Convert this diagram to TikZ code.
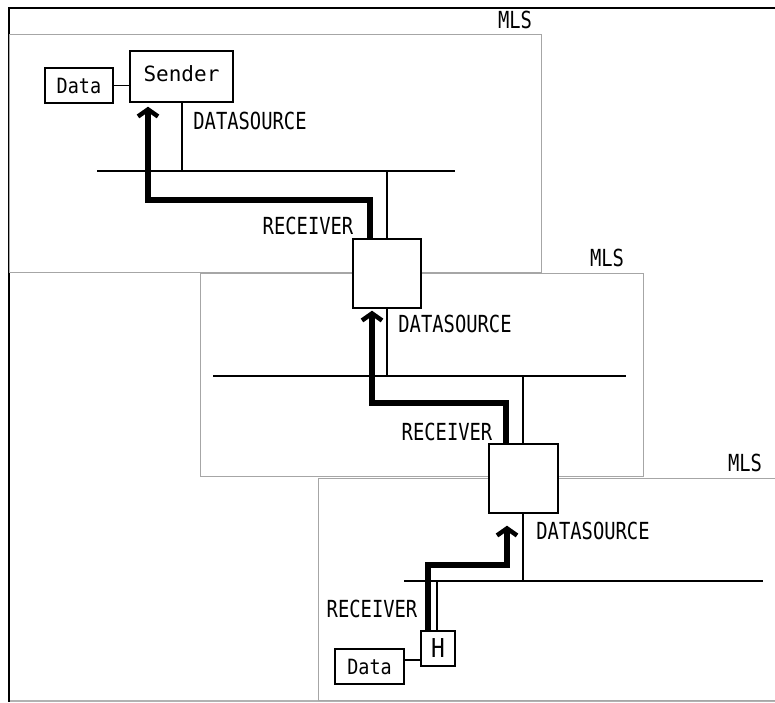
\documentclass[tikz,border=0pt]{standalone}
\usepackage{fontspec}
\usetikzlibrary{arrows.meta}
\newfontfamily\labfont[FakeStretch=0.8]{DejaVu Sans Mono}
\newfontfamily\boxfont[FakeStretch=0.88]{DejaVu Sans Mono}
\newfontfamily\wideboxfont{DejaVu Sans Mono}
\tikzset{
  mls/.style={draw=black!35, line width=1.3pt, fill=none},
  bus/.style={draw=black, line width=1.4pt},
  thin/.style={draw=black, line width=1.4pt},
  box/.style={draw=black, line width=1.4pt, fill=white, inner sep=0pt, font=\boxfont\fontsize{21}{21}\selectfont},
  lab/.style={inner sep=0pt, font=\labfont\fontsize{23.5}{23.5}\selectfont},
  flow/.style={draw=black, line width=6pt, -{Straight Barb[length=7pt,width=20pt,line width=4.5pt]}},
}
\begin{document}
\begin{tikzpicture}[x=1pt,y=-1pt]
\useasboundingbox (0,0) rectangle (775,702);
% outer frame
\draw[black!30, line width=1.3pt] (9,701) -- (775,701);
\draw[black, line width=2pt] (775,8) -- (9,8) -- (9,702);
% MLS domains
\node[mls, minimum width=532pt, minimum height=238pt, anchor=north west] (mls1) at (9,34) {};
\node[mls, minimum width=443pt, minimum height=203pt, anchor=north west] (mls2) at (200,273) {};
\node[mls, minimum width=470pt, minimum height=222pt, anchor=north west] (mls3) at (318,478) {};
\node[lab] (mlsl1) at (515,20) {MLS};
\node[lab] (mlsl2) at (607,258) {MLS};
\node[lab] (mlsl3) at (745,463) {MLS};
% buses
\coordinate (b1w) at (97,171);  \coordinate (b1e) at (455,171);
\coordinate (b2w) at (213,376); \coordinate (b2e) at (626,376);
\coordinate (b3w) at (404,581); \coordinate (b3e) at (763,581);
\draw[bus] (b1w) -- (b1e);
\draw[bus] (b2w) -- (b2e);
\draw[bus] (b3w) -- (b3e);
% boxes
\node[box, minimum width=103pt, minimum height=51pt, font=\wideboxfont\fontsize{21}{21}\selectfont, text depth=6pt] (sender) at (181.5,76.5) {Sender};
\node[box, minimum width=68pt, minimum height=35pt] (data1) at (79,85.5) {Data};
\node[box, minimum width=68pt, minimum height=69pt] (sq1) at (387,273.5) {};
\node[box, minimum width=69pt, minimum height=69pt] (sq2) at (523.5,478.5) {};
\node[box, minimum width=34pt, minimum height=35pt, font=\boxfont\fontsize{26}{26}\selectfont] (h) at (438,648.5) {H};
\node[box, minimum width=69pt, minimum height=35pt] (data3) at (369.5,666.5) {Data};
% thin connectors
\draw[thin] (data1.east) -- (data1.east -| sender.west);
\draw[thin] (data3.east |- 0,660) -- (h.west |- 0,660);
\draw[thin] (sender.south -| 182,0) -- (b1w -| 182,0);
\draw[thin] (b1w -| 387,0) -- (sq1.north);
\draw[thin] (sq1.south) -- (b2w -| 387,0);
\draw[thin] (b2w -| 523,0) -- (sq2.north -| 523,0);
\draw[thin] (sq2.south -| 523,0) -- (b3w -| 523,0);
\draw[thin] (b3w -| 437,0) -- (h.north -| 437,0);
% labels
\node[lab] (ds1) at (250,121) {DATASOURCE};
\node[lab] (ds2) at (455,324) {DATASOURCE};
\node[lab] (ds3) at (593,531) {DATASOURCE};
\node[lab] (rc1) at (308,226) {RECEIVER};
\node[lab] (rc2) at (447,432) {RECEIVER};
\node[lab] (rc3) at (372,609) {RECEIVER};
% flows
\draw[flow, shorten >=4pt] (sq1.north -| 370,0) -- (370,200) -- (148,200) -- (sender.south -| 148,0);
\draw[flow, shorten >=2pt] (sq2.north -| 506,0) -- (506,403) -- (372,403) -- (sq1.south -| 372,0);
\draw[flow, shorten >=12pt] (h.north -| 428,0) -- (428,565) -- (507,565) -- (sq2.south -| 507,0);
\end{tikzpicture}
\end{document}
